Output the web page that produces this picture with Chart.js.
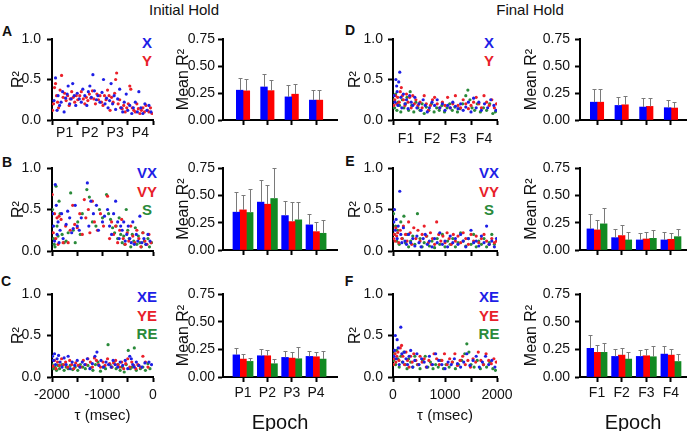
<!DOCTYPE html>
<html>
<head>
<meta charset="utf-8">
<script src="https://cdn.jsdelivr.net/npm/chart.js@4.4.0/dist/chart.umd.min.js"></script>
<style>
body{margin:0;width:688px;height:431px;overflow:hidden;background:#fff;position:relative;font-family:"Liberation Sans",Arial,sans-serif}
canvas{position:absolute}
.t{position:absolute;white-space:nowrap;line-height:1;transform:translate(-50%,-50%);color:#111}
.L{font-weight:bold;font-size:14px}
.g{font-weight:bold;font-size:15px}
</style>
</head>
<body>
<div class="t" style="left:184px;top:9px;font-size:15px">Initial Hold</div>
<div class="t" style="left:530px;top:9px;font-size:15px">Final Hold</div>
<div class="t L" style="left:7px;top:31px">A</div>
<div class="t L" style="left:7px;top:162px">B</div>
<div class="t L" style="left:6px;top:281px">C</div>
<div class="t L" style="left:350px;top:30px">D</div>
<div class="t L" style="left:350px;top:161px">E</div>
<div class="t L" style="left:349px;top:281px">F</div>

<div class="t g" style="left:147px;top:42px;color:#1e1ee6">X</div>
<div class="t g" style="left:147px;top:60px;color:#e8202a">Y</div>
<div class="t g" style="left:147px;top:172px;color:#1e1ee6">VX</div>
<div class="t g" style="left:147px;top:191px;color:#e8202a">VY</div>
<div class="t g" style="left:147px;top:209px;color:#2a8a3a">S</div>
<div class="t g" style="left:147px;top:296px;color:#1e1ee6">XE</div>
<div class="t g" style="left:147px;top:315px;color:#e8202a">YE</div>
<div class="t g" style="left:147px;top:333px;color:#2a8a3a">RE</div>

<div class="t g" style="left:489px;top:42px;color:#1e1ee6">X</div>
<div class="t g" style="left:489px;top:60px;color:#e8202a">Y</div>
<div class="t g" style="left:489px;top:172px;color:#1e1ee6">VX</div>
<div class="t g" style="left:489px;top:191px;color:#e8202a">VY</div>
<div class="t g" style="left:489px;top:209px;color:#2a8a3a">S</div>
<div class="t g" style="left:489px;top:296px;color:#1e1ee6">XE</div>
<div class="t g" style="left:489px;top:315px;color:#e8202a">YE</div>
<div class="t g" style="left:489px;top:333px;color:#2a8a3a">RE</div>

<script>
// epochs
const epochsP = ['P1', 'P2', 'P3', 'P4'];
const epochsF = ['F1', 'F2', 'F3', 'F4'];

// scatter series: [tau (msec), R2]
const aX = [[-1960,0.24],[-1930,0.52],[-1900,0.12],[-1880,0.3],[-1850,0.18],[-1820,0.22],[-1790,0.35],[-1760,0.1],[-1730,0.27],[-1700,0.32],[-1680,0.42],[-1650,0.2],[-1620,0.26],[-1590,0.45],[-1560,0.3],[-1530,0.18],[-1500,0.33],[-1460,0.26],[-1420,0.22],[-1390,0.38],[-1350,0.3],[-1310,0.18],[-1280,0.35],[-1250,0.42],[-1220,0.28],[-1190,0.56],[-1160,0.36],[-1120,0.25],[-1090,0.3],[-1050,0.22],[-1010,0.34],[-980,0.5],[-950,0.2],[-920,0.27],[-890,0.15],[-860,0.24],[-830,0.45],[-800,0.2],[-770,0.3],[-740,0.13],[-700,0.26],[-660,0.38],[-630,0.15],[-600,0.1],[-570,0.22],[-530,0.32],[-500,0.12],[-460,0.18],[-420,0.08],[-390,0.15],[-350,0.22],[-310,0.1],[-280,0.35],[-240,0.15],[-200,0.08],[-160,0.2],[-120,0.12],[-80,0.18],[-40,0.1]];
const aY = [[-1990,0.12],[-1970,0.2],[-1950,0.4],[-1930,0.45],[-1910,0.3],[-1890,0.22],[-1870,0.15],[-1840,0.37],[-1810,0.55],[-1780,0.28],[-1750,0.33],[-1720,0.24],[-1690,0.3],[-1660,0.18],[-1640,0.26],[-1610,0.35],[-1580,0.28],[-1550,0.22],[-1520,0.3],[-1490,0.25],[-1450,0.3],[-1420,0.35],[-1380,0.26],[-1350,0.2],[-1320,0.28],[-1290,0.24],[-1260,0.32],[-1230,0.27],[-1200,0.36],[-1170,0.26],[-1140,0.2],[-1110,0.32],[-1080,0.25],[-1050,0.3],[-1020,0.22],[-990,0.18],[-960,0.3],[-930,0.25],[-900,0.37],[-870,0.3],[-850,0.12],[-820,0.28],[-790,0.22],[-760,0.33],[-740,0.5],[-720,0.58],[-690,0.2],[-660,0.25],[-640,0.15],[-610,0.14],[-580,0.18],[-550,0.1],[-520,0.15],[-490,0.2],[-460,0.42],[-440,0.38],[-410,0.15],[-380,0.12],[-350,0.1],[-320,0.2],[-290,0.14],[-260,0.08],[-230,0.12],[-200,0.15],[-170,0.1],[-140,0.18],[-110,0.12],[-80,0.1],[-50,0.15],[-20,0.08]];

const bVX = [[-1990,0.45],[-1970,0.3],[-1950,0.12],[-1935,0.8],[-1915,0.55],[-1900,0.2],[-1880,0.35],[-1860,0.1],[-1840,0.25],[-1810,0.45],[-1780,0.15],[-1720,0.32],[-1690,0.48],[-1650,0.4],[-1610,0.22],[-1580,0.27],[-1540,0.55],[-1500,0.3],[-1460,0.25],[-1420,0.4],[-1300,0.82],[-1270,0.3],[-1230,0.6],[-1180,0.45],[-1120,0.55],[-1080,0.25],[-1000,0.35],[-960,0.42],[-900,0.5],[-860,0.3],[-820,0.2],[-780,0.45],[-740,0.6],[-700,0.35],[-670,0.15],[-640,0.3],[-610,0.25],[-580,0.35],[-550,0.12],[-520,0.2],[-490,0.3],[-460,0.15],[-430,0.1],[-400,0.35],[-370,0.08],[-330,0.2],[-300,0.12],[-260,0.42],[-220,0.1],[-180,0.15],[-140,0.08],[-100,0.2],[-60,0.12]];
const bVY = [[-1995,0.68],[-1975,0.22],[-1950,0.45],[-1925,0.15],[-1900,0.4],[-1880,0.08],[-1860,0.42],[-1820,0.38],[-1780,0.1],[-1730,0.3],[-1680,0.1],[-1640,0.25],[-1590,0.55],[-1550,0.32],[-1500,0.28],[-1450,0.45],[-1400,0.2],[-1360,0.62],[-1330,0.4],[-1280,0.5],[-1250,0.22],[-1200,0.6],[-1160,0.35],[-1100,0.25],[-1040,0.45],[-980,0.3],[-900,0.66],[-860,0.15],[-820,0.35],[-780,0.2],[-740,0.3],[-700,0.1],[-660,0.25],[-620,0.38],[-590,0.15],[-550,0.08],[-510,0.22],[-480,0.12],[-440,0.3],[-400,0.18],[-360,0.1],[-320,0.25],[-280,0.15],[-240,0.05],[-200,0.22],[-160,0.12],[-120,0.08],[-80,0.2],[-40,0.1]];
const bS = [[-1990,0.5],[-1970,0.15],[-1955,0.08],[-1940,0.05],[-1920,0.78],[-1900,0.3],[-1880,0.18],[-1860,0.6],[-1840,0.45],[-1800,0.2],[-1760,0.1],[-1720,0.12],[-1680,0.22],[-1630,0.7],[-1580,0.25],[-1540,0.1],[-1490,0.35],[-1440,0.2],[-1400,0.45],[-1310,0.74],[-1260,0.65],[-1200,0.35],[-1130,0.3],[-1060,0.5],[-1000,0.4],[-920,0.68],[-880,0.45],[-840,0.38],[-800,0.28],[-760,0.22],[-730,0.3],[-700,0.15],[-670,0.4],[-640,0.2],[-610,0.1],[-580,0.18],[-560,0.08],[-530,0.5],[-500,0.25],[-470,0.15],[-440,0.05],[-410,0.2],[-380,0.12],[-350,0.28],[-320,0.08],[-290,0.18],[-260,0.1],[-230,0.05],[-200,0.22],[-170,0.12],[-140,0.08],[-100,0.15],[-70,0.05],[-30,0.1]];

const cXE = [[-1990,0.25],[-1970,0.2],[-1950,0.28],[-1930,0.15],[-1900,0.22],[-1870,0.26],[-1840,0.18],[-1800,0.12],[-1760,0.23],[-1720,0.15],[-1680,0.25],[-1640,0.1],[-1600,0.18],[-1550,0.14],[-1500,0.2],[-1450,0.12],[-1400,0.18],[-1350,0.15],[-1300,0.22],[-1250,0.1],[-1200,0.16],[-1150,0.25],[-1110,0.3],[-1070,0.14],[-1030,0.2],[-980,0.12],[-930,0.18],[-880,0.15],[-830,0.12],[-790,0.2],[-750,0.15],[-700,0.12],[-650,0.18],[-600,0.14],[-550,0.2],[-500,0.1],[-460,0.25],[-430,0.22],[-400,0.15],[-370,0.12],[-330,0.18],[-280,0.14],[-220,0.12],[-160,0.17],[-80,0.18],[-30,0.15]];
const cYE = [[-1980,0.13],[-1950,0.2],[-1920,0.1],[-1890,0.18],[-1850,0.14],[-1810,0.22],[-1770,0.15],[-1730,0.18],[-1690,0.12],[-1650,0.2],[-1610,0.15],[-1570,0.1],[-1530,0.17],[-1480,0.14],[-1430,0.12],[-1380,0.2],[-1330,0.15],[-1290,0.22],[-1240,0.18],[-1200,0.12],[-1160,0.23],[-1120,0.2],[-1080,0.15],[-1040,0.12],[-990,0.18],[-950,0.14],[-900,0.22],[-860,0.16],[-820,0.12],[-780,0.17],[-740,0.2],[-700,0.15],[-660,0.12],[-620,0.18],[-580,0.1],[-540,0.16],[-500,0.22],[-460,0.12],[-420,0.18],[-380,0.14],[-340,0.1],[-300,0.15],[-250,0.12],[-200,0.25],[-150,0.18],[-100,0.12]];
const cRE = [[-1995,0.15],[-1970,0.1],[-1940,0.12],[-1910,0.08],[-1880,0.14],[-1850,0.1],[-1800,0.15],[-1760,0.08],[-1720,0.12],[-1680,0.1],[-1640,0.14],[-1590,0.09],[-1540,0.12],[-1490,0.08],[-1440,0.15],[-1390,0.12],[-1340,0.1],[-1290,0.14],[-1240,0.11],[-1190,0.08],[-1140,0.15],[-1090,0.18],[-1040,0.07],[-990,0.12],[-940,0.1],[-890,0.39],[-850,0.15],[-810,0.12],[-770,0.18],[-730,0.1],[-690,0.15],[-650,0.08],[-610,0.12],[-570,0.06],[-530,0.15],[-490,0.32],[-450,0.1],[-410,0.12],[-370,0.35],[-330,0.08],[-290,0.14],[-250,0.1],[-200,0.12],[-150,0.08],[-100,0.16],[-60,0.1]];

const dX = [[20,0.3],[40,0.22],[55,0.5],[70,0.42],[80,0.35],[95,0.18],[110,0.47],[130,0.59],[150,0.28],[170,0.15],[200,0.32],[230,0.2],[260,0.25],[290,0.14],[320,0.3],[350,0.22],[380,0.18],[420,0.28],[460,0.15],[500,0.2],[540,0.12],[580,0.25],[620,0.18],[660,0.1],[700,0.15],[750,0.22],[800,0.18],[850,0.25],[900,0.15],[950,0.2],[1000,0.12],[1050,0.18],[1100,0.15],[1150,0.22],[1200,0.17],[1250,0.14],[1300,0.2],[1350,0.12],[1400,0.16],[1450,0.22],[1500,0.1],[1550,0.27],[1600,0.15],[1650,0.22],[1700,0.12],[1760,0.2],[1820,0.15],[1880,0.25],[1940,0.18],[1980,0.12]];
const dY = [[15,0.18],[35,0.25],[50,0.3],[70,0.2],[90,0.28],[120,0.22],[140,0.35],[160,0.4],[180,0.3],[200,0.25],[230,0.18],[260,0.32],[290,0.22],[320,0.28],[350,0.15],[380,0.3],[410,0.2],[440,0.25],[480,0.18],[520,0.22],[560,0.15],[600,0.3],[640,0.2],[680,0.12],[720,0.18],[760,0.25],[800,0.28],[850,0.2],[900,0.15],[950,0.22],[1000,0.18],[1050,0.28],[1100,0.15],[1150,0.2],[1200,0.3],[1250,0.18],[1300,0.15],[1350,0.25],[1400,0.2],[1450,0.14],[1500,0.18],[1550,0.22],[1600,0.28],[1650,0.2],[1700,0.15],[1750,0.3],[1800,0.22],[1850,0.18],[1900,0.25],[1950,0.15],[1990,0.2]];
const dR = [[10,0.25],[30,0.15],[50,0.32],[75,0.12],[100,0.22],[125,0.18],[150,0.1],[180,0.25],[210,0.15],[240,0.2],[270,0.28],[300,0.12],[330,0.35],[360,0.18],[400,0.1],[440,0.22],[480,0.15],[520,0.12],[560,0.2],[600,0.08],[640,0.16],[690,0.12],[740,0.2],[790,0.1],[840,0.15],[890,0.12],[940,0.18],[990,0.1],[1040,0.15],[1090,0.2],[1140,0.12],[1190,0.16],[1240,0.1],[1290,0.14],[1340,0.2],[1400,0.3],[1440,0.37],[1480,0.25],[1520,0.15],[1570,0.12],[1620,0.2],[1680,0.1],[1740,0.15],[1800,0.12],[1860,0.2],[1920,0.08],[1970,0.1]];

const eVX = [[15,0.35],[30,0.5],[45,0.25],[60,0.38],[80,0.15],[100,0.3],[130,0.72],[150,0.2],[170,0.1],[200,0.28],[230,0.12],[260,0.08],[300,0.2],[340,0.1],[380,0.15],[420,0.06],[460,0.18],[500,0.1],[540,0.05],[580,0.15],[620,0.2],[660,0.08],[700,0.12],[750,0.05],[800,0.15],[850,0.1],[900,0.22],[950,0.08],[1000,0.12],[1050,0.05],[1100,0.18],[1150,0.1],[1200,0.15],[1250,0.08],[1300,0.2],[1350,0.12],[1400,0.05],[1450,0.15],[1500,0.25],[1550,0.1],[1600,0.12],[1650,0.06],[1700,0.18],[1750,0.1],[1800,0.3],[1850,0.08],[1900,0.12],[1950,0.05],[1990,0.15]];
const eVY = [[10,0.15],[25,0.2],[40,0.12],[55,0.28],[70,0.18],[90,0.22],[110,0.1],[140,0.25],[170,0.15],[200,0.3],[240,0.2],[270,0.12],[300,0.35],[330,0.22],[360,0.08],[400,0.28],[440,0.15],[480,0.25],[520,0.12],[560,0.2],[600,0.3],[640,0.18],[680,0.1],[720,0.22],[760,0.15],[800,0.08],[840,0.35],[880,0.2],[920,0.12],[960,0.18],[1000,0.1],[1040,0.22],[1080,0.15],[1120,0.08],[1160,0.2],[1200,0.12],[1250,0.18],[1300,0.1],[1350,0.22],[1400,0.15],[1450,0.08],[1500,0.2],[1550,0.12],[1600,0.18],[1650,0.1],[1700,0.15],[1750,0.2],[1800,0.12],[1850,0.08],[1900,0.15],[1950,0.1],[1990,0.12]];
const eS = [[10,0.45],[30,0.2],[50,0.3],[70,0.12],[90,0.25],[120,0.08],[150,0.35],[180,0.15],[210,0.42],[240,0.1],[270,0.2],[300,0.05],[340,0.12],[380,0.18],[420,0.08],[470,0.45],[520,0.15],[560,0.05],[600,0.1],[650,0.18],[700,0.06],[750,0.12],[800,0.04],[850,0.15],[900,0.08],[950,0.2],[1000,0.05],[1050,0.12],[1100,0.08],[1150,0.15],[1200,0.05],[1250,0.1],[1300,0.22],[1350,0.12],[1400,0.06],[1450,0.15],[1500,0.08],[1550,0.2],[1600,0.05],[1650,0.12],[1700,0.08],[1750,0.15],[1800,0.05],[1850,0.1],[1900,0.2],[1950,0.08]];

const fXE = [[15,0.25],[30,0.32],[45,0.5],[60,0.22],[80,0.45],[100,0.35],[120,0.15],[150,0.6],[170,0.28],[190,0.18],[220,0.3],[250,0.22],[280,0.15],[310,0.25],[340,0.32],[380,0.12],[420,0.2],[460,0.28],[500,0.15],[550,0.22],[600,0.18],[650,0.12],[700,0.25],[760,0.15],[820,0.28],[880,0.2],[940,0.15],[1000,0.1],[1060,0.18],[1120,0.15],[1180,0.22],[1240,0.16],[1300,0.12],[1360,0.18],[1420,0.28],[1480,0.14],[1540,0.2],[1600,0.25],[1660,0.12],[1720,0.18],[1780,0.25],[1840,0.15],[1900,0.2],[1960,0.12]];
const fYE = [[10,0.15],[25,0.22],[40,0.28],[55,0.18],[75,0.25],[95,0.3],[115,0.2],[140,0.35],[165,0.38],[190,0.25],[220,0.15],[250,0.3],[280,0.2],[310,0.12],[340,0.25],[370,0.18],[400,0.28],[440,0.2],[480,0.15],[520,0.25],[560,0.18],[600,0.22],[640,0.12],[690,0.2],[740,0.15],[790,0.28],[840,0.22],[890,0.15],[940,0.2],[990,0.28],[1040,0.15],[1090,0.22],[1140,0.18],[1190,0.28],[1240,0.14],[1290,0.2],[1340,0.25],[1390,0.15],[1440,0.2],[1490,0.12],[1540,0.22],[1590,0.18],[1640,0.3],[1690,0.2],[1740,0.15],[1790,0.28],[1840,0.2],[1890,0.16],[1940,0.22],[1985,0.18]];
const fRE = [[10,0.2],[30,0.28],[50,0.15],[70,0.32],[95,0.22],[120,0.12],[150,0.25],[180,0.18],[210,0.3],[240,0.15],[270,0.1],[300,0.22],[340,0.18],[380,0.12],[420,0.25],[470,0.15],[520,0.1],[570,0.2],[620,0.25],[670,0.12],[720,0.18],[770,0.1],[820,0.15],[870,0.12],[920,0.2],[970,0.1],[1020,0.15],[1080,0.12],[1140,0.18],[1200,0.1],[1260,0.15],[1320,0.2],[1380,0.28],[1420,0.4],[1460,0.3],[1500,0.15],[1560,0.12],[1620,0.2],[1680,0.1],[1740,0.15],[1800,0.12],[1860,0.18],[1920,0.1],[1970,0.08]];

// mean R2 per epoch and error (upper whisker length)
const aBlue = [0.276, 0.306, 0.214, 0.184], aBlueErr = [0.113, 0.116, 0.107, 0.092];
const aRed = [0.270, 0.272, 0.239, 0.184], aRedErr = [0.107, 0.095, 0.098, 0.098];
const bBlue = [0.346, 0.438, 0.315, 0.230], bBlueErr = [0.181, 0.205, 0.135, 0.101];
const bRed = [0.367, 0.419, 0.260, 0.168], bRedErr = [0.138, 0.178, 0.175, 0.092];
const bGreen = [0.343, 0.471, 0.276, 0.153], bGreenErr = [0.214, 0.279, 0.159, 0.117];
const cBlue = [0.200, 0.192, 0.177, 0.186], cBlueErr = [0.061, 0.060, 0.054, 0.051];
const cRed = [0.162, 0.192, 0.171, 0.183], cRedErr = [0.045, 0.054, 0.057, 0.045];
const cGreen = [0.141, 0.120, 0.165, 0.162], cGreenErr = [0.030, 0.042, 0.102, 0.075];
const dBlue = [0.165, 0.135, 0.120, 0.114], dBlueErr = [0.126, 0.081, 0.080, 0.072];
const dRed = [0.165, 0.141, 0.126, 0.111], dRedErr = [0.126, 0.084, 0.074, 0.060];
const eBlue = [0.193, 0.113, 0.092, 0.092], eBlueErr = [0.135, 0.080, 0.067, 0.070];
const eRed = [0.184, 0.132, 0.101, 0.098], eRedErr = [0.086, 0.098, 0.067, 0.055];
const eGreen = [0.239, 0.092, 0.107, 0.122], eGreenErr = [0.144, 0.076, 0.077, 0.068];
const fBlue = [0.259, 0.186, 0.186, 0.207], fBlueErr = [0.125, 0.067, 0.061, 0.073];
const fRed = [0.223, 0.198, 0.192, 0.198], fRedErr = [0.067, 0.064, 0.061, 0.055];
const fGreen = [0.223, 0.162, 0.183, 0.140], fGreenErr = [0.082, 0.067, 0.101, 0.067];

const ptBlue = 'rgb(30,30,230)', ptRed = 'rgb(235,32,42)', ptGreen = 'rgb(42,138,58)';
const barBlue = '#0000ff', barRed = '#ff0000', barGreen = '#118a22';

Chart.defaults.font.family = '"Liberation Sans", Arial, sans-serif';
Chart.defaults.color = '#111';

function addCanvas(L, T, W, H) {
  const c = document.createElement('canvas');
  c.width = W; c.height = H;
  c.style.left = L + 'px'; c.style.top = T + 'px';
  c.style.width = W + 'px'; c.style.height = H + 'px';
  document.body.appendChild(c);
  return c;
}

function yAxis(max, step, digits, title, wY, pad) {
  return {
    min: 0, max: max,
    border: {color: '#000', width: 2},
    grid: {drawOnChartArea: false, tickLength: 5, tickWidth: 2, tickColor: '#000'},
    ticks: {stepSize: step, padding: pad, font: {size: 14}, callback: v => v.toFixed(digits)},
    title: {display: true, text: title, font: {size: 16}, padding: 0},
    afterFit: s => { s.width = wY; }
  };
}

function xAxis(min, max, step, labelFn, tickOn, pad, hX, title) {
  return {
    type: 'linear', min: min, max: max,
    border: {color: '#000', width: 2},
    grid: {drawOnChartArea: false, tickLength: 5, tickWidth: 2,
           tickColor: c => tickOn(c.index) ? '#000' : 'rgba(0,0,0,0)'},
    ticks: {stepSize: step, autoSkip: false, maxRotation: 0, padding: pad, font: {size: 14},
            callback: (v, i) => labelFn(v, i)},
    title: {display: !!title, text: title || '', font: {size: 15}, padding: 0},
    afterFit: s => { s.height = hX; }
  };
}

function scatter(pos, sets, xa) {
  const c = addCanvas(pos[0], pos[1], pos[2], pos[3]);
  new Chart(c, {
    type: 'scatter',
    data: {
      datasets: sets.map(s => ({
        data: s[0].map(p => ({x: p[0], y: p[1]})),
        backgroundColor: s[1], pointRadius: 1.6, borderWidth: 0
      }))
    },
    options: {
      responsive: false, animation: false,
      layout: {padding: {top: 16, right: pos[4], left: 0, bottom: 0}},
      plugins: {legend: {display: false}, tooltip: {enabled: false}},
      scales: {x: xa, y: yAxis(1, 0.5, 1, 'R²', pos[5], pos[6])}
    }
  });
}

const errorBars = {
  id: 'errorBars',
  afterDatasetsDraw(chart) {
    const ctx = chart.ctx, ys = chart.scales.y;
    ctx.save();
    ctx.strokeStyle = '#7a7a7a';
    ctx.lineWidth = 1;
    chart.data.datasets.forEach((ds, i) => {
      chart.getDatasetMeta(i).data.forEach((bar, j) => {
        const x = Math.round(bar.x) + 0.5;
        const top = Math.round(ys.getPixelForValue(ds.data[j].y + ds.errors[j])) + 0.5;
        ctx.beginPath();
        ctx.moveTo(x, bar.y); ctx.lineTo(x, top);
        ctx.moveTo(x - 2, top); ctx.lineTo(x + 2, top);
        ctx.stroke();
      });
    });
    ctx.restore();
  }
};

function bars(pos, sets, xmin, xmax, labels, pad, hX, title) {
  const c = addCanvas(pos[0], pos[1], pos[2], pos[3]);
  new Chart(c, {
    type: 'bar',
    data: {
      datasets: sets.map(s => ({
        data: s[0].map((v, i) => ({x: i + 1, y: v})),
        errors: s[1], backgroundColor: s[2], barThickness: 6.7, borderWidth: 0
      }))
    },
    options: {
      responsive: false, animation: false,
      layout: {padding: {top: 16, right: pos[4], left: 0, bottom: 0}},
      plugins: {legend: {display: false}, tooltip: {enabled: false}},
      scales: {
        x: {
          type: 'linear', min: xmin, max: xmax, offset: false,
          afterBuildTicks: s => { s.ticks = [1, 2, 3, 4].map(v => ({value: v})); },
          border: {color: '#000', width: 2},
          grid: {offset: false, drawOnChartArea: false, tickLength: 5, tickWidth: 2, tickColor: '#000'},
          ticks: {autoSkip: false, maxRotation: 0, padding: pad, font: {size: 14},
                  callback: (v, i) => labels ? labels[i] : ''},
          title: {display: !!title, text: title || '', font: {size: 20}, padding: 0},
          afterFit: s => { s.height = hX; }
        },
        y: yAxis(0.75, 0.25, 2, 'Mean R²', pos[5], pos[6])
      }
    },
    plugins: [errorBars]
  });
}

const none = () => '';
const even = i => i % 2 === 0;
const all = () => true;
const midLabels = cats => (v, i) => i % 2 === 1 ? cats[(i - 1) / 2] : '';
const endLabels = (v, i) => i % 2 === 0 ? String(v) : '';

// positions: [left, top, width, height, rightPad, yAxisWidth, yTickPad]
// left scatter column
scatter([9, 23, 154, 122, 10, 43, 6], [[aX, ptBlue], [aY, ptRed]],
  xAxis(-2000, 0, 250, midLabels(epochsP), even, 0, 25));
scatter([9, 152, 154, 115, 10, 43, 6], [[bVX, ptBlue], [bVY, ptRed], [bS, ptGreen]],
  xAxis(-2000, 0, 500, none, all, 0, 16));
scatter([9, 278, 157, 147, 13, 43, 6], [[cXE, ptBlue], [cYE, ptRed], [cRE, ptGreen]],
  xAxis(-2000, 0, 500, endLabels, all, 5, 48, 'τ (msec)'));

// right scatter column
scatter([346, 23, 168, 122, 17, 47, 5], [[dX, ptBlue], [dY, ptRed], [dR, ptGreen]],
  xAxis(0, 2000, 250, midLabels(epochsF), even, 6, 25));
scatter([346, 152, 168, 115, 17, 47, 5], [[eVX, ptBlue], [eVY, ptRed], [eS, ptGreen]],
  xAxis(0, 2000, 500, none, all, 0, 16));
scatter([346, 278, 173, 147, 22, 47, 5], [[fXE, ptBlue], [fYE, ptRed], [fRE, ptGreen]],
  xAxis(0, 2000, 500, endLabels, all, 5, 48, 'τ (msec)'));

// left bar column
bars([174, 23, 167, 113, 4, 49, 3], [[aBlue, aBlueErr, barBlue], [aRed, aRedErr, barRed]],
  0.178, 4.86, null, 0, 16);
bars([174, 152, 167, 114, 4, 49, 3], [[bBlue, bBlueErr, barBlue], [bRed, bRedErr, barRed], [bGreen, bGreenErr, barGreen]],
  0.178, 4.86, null, 0, 16);
bars([174, 278, 167, 157, 4, 49, 3], [[cBlue, cBlueErr, barBlue], [cRed, cRedErr, barRed], [cGreen, cGreenErr, barGreen]],
  0.178, 4.86, epochsP, 3, 58, 'Epoch');

// right bar column
bars([522, 23, 166, 113, 2, 58, 5], [[dBlue, dBlueErr, barBlue], [dRed, dRedErr, barRed]],
  0.31, 4.61, null, 0, 16);
bars([522, 152, 166, 114, 2, 58, 5], [[eBlue, eBlueErr, barBlue], [eRed, eRedErr, barRed], [eGreen, eGreenErr, barGreen]],
  0.31, 4.61, null, 0, 16);
bars([522, 278, 166, 157, 2, 58, 5], [[fBlue, fBlueErr, barBlue], [fRed, fRedErr, barRed], [fGreen, fGreenErr, barGreen]],
  0.31, 4.61, epochsF, 3, 58, 'Epoch');
</script>
</body>
</html>
